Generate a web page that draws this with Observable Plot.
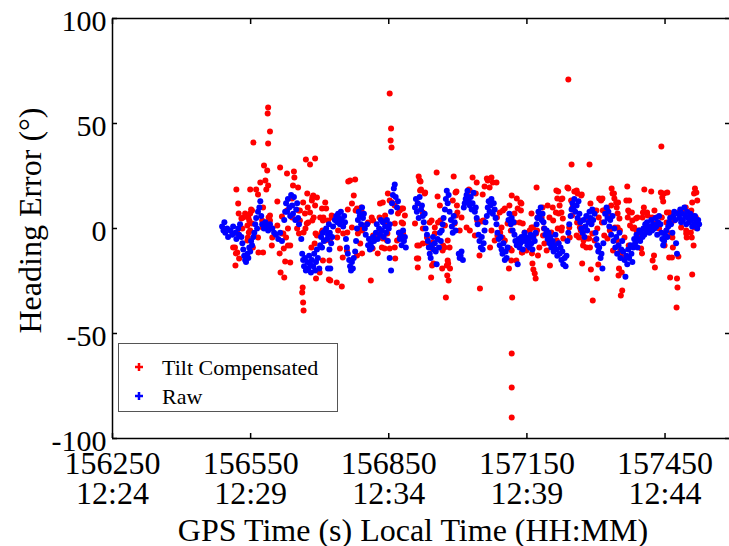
<!DOCTYPE html>
<html><head><meta charset="utf-8">
<script src="https://cdn.jsdelivr.net/npm/d3@7"></script>
<script src="https://cdn.jsdelivr.net/npm/@observablehq/plot@0.6"></script>
<style>html,body{margin:0;padding:0;background:#fff;}#chart{width:729px;height:546px;}</style>
</head><body><div id="chart"></div>
<script>
const xDomain = [156250, 157590];
const yDomain = [-100, 100];
const xTicks = [156250, 156550, 156850, 157150, 157450];
const xTickTimes = ["12:24", "12:29", "12:34", "12:39", "12:44"];
const yTicks = [-100, -50, 0, 50, 100];
const yTickLabels = ["-100", "-50", "0", "50", "100"];
const seriesNames = ["Tilt Compensated", "Raw"];
const seriesColors = ["#ff0000", "#0000ff"];
const xLabel = "GPS Time (s) Local Time (HH:MM)";
const yLabel = "Heading Error (\u00b0)";

const tiltCompensated = [
[156588,57.6],[156587,54.8],[156592,46.2],[156556,41],[156588,40.5],[156579,30],[156614,29],[156586,27.6],[156644,27.1],[156670,32.9],[156690,33.3],[156679,30.5],[156629,26.2],[156645,24.3],[156571,21.9],[156582,22.9],[156588,20.5],[156584,18.6],[156519,18.6],[156549,18.6],[156562,18.6],[156642,20.5],[156653,19.5],[156523,11.9],[156608,12.9],[156640,14.3],[156664,12.4],[156686,15.7],[156683,13.3],[156690,11],[156551,9],[156524,7.1],[156538,7.1],[156530,4.8],[156545,5.2],[156553,2.4],[156575,3.8],[156589,5.2],[156618,5.7],[156654,8.6],[156668,7.1],[156687,5.2],[156675,2.9],[156705,9.5],[156522,-2.4],[156546,-1.9],[156543,-5.7],[156566,-4.3],[156576,0.5],[156597,-4.3],[156621,-2.4],[156627,-4.3],[156655,-2.4],[156669,0],[156684,3.8],[156691,-2.4],[156706,-1],[156512,-9],[156518,-11.9],[156525,-14.3],[156517,-17.6],[156555,-9],[156567,-11.4],[156577,-11.4],[156596,-8.1],[156613,-11.9],[156622,-9.5],[156631,-8.1],[156625,-15.7],[156636,-16.2],[156615,-21],[156623,-23.3],[156682,-9],[156689,-7.1],[156696,-20],[156692,-23.8],[156663,-28.1],[156662,-30.5],[156664,-35.2],[156665,-39],
[156566,16.2],[156553,8.6],[156577,10],[156592,3.8],[156636,-8.1],[156673,16.7],[156684,14.8],[156674,10],[156679,7.6],[156657,3.8],[156672,2.4],[156665,-1.9],[156547,3.8],[156549,-1],[156544,-4.3],[156516,-9],[156521,-11.4],
[156534,5.2],[156543,1.4],[156532,0],[156549,7.1],[156582,2.9],[156597,0],[156608,1.4],[156618,-2.4],[156592,6.2],[156629,8.6],[156640,5.2],[156651,0],[156631,0],[156657,8.6],
[156852,64.3],[156855,47.6],[156854,41.9],[156856,38.6],[156766,22.9],[156777,23.3],[156915,24.8],[156917,22.9],[156712,12.4],[156714,9.5],[156774,15.7],[156770,11.9],[156761,9],[156778,8.6],[156790,10],[156848,16.7],[156837,12.4],[156831,11.9],[156857,12.4],[156878,9.5],[156885,6.2],[156918,18.1],[156928,16.7],[156701,5.2],[156707,3.8],[156718,3.8],[156727,5.2],[156738,-4.3],[156722,-5.7],[156751,-2.4],[156760,-1.9],[156787,0],[156805,2.9],[156816,-3.3],[156830,5.2],[156842,3.8],[156847,-2.4],[156863,-9],[156868,-5.7],[156874,-1.9],[156881,2.4],[156788,-7.1],[156792,-11.9],[156781,-12.9],[156815,-9.5],[156826,-11.9],[156841,-9.5],[156852,-9.5],[156864,-14.3],[156744,-9.5],[156759,-10.5],[156750,-13.8],[156721,-15.2],[156700,-21],[156723,-24.8],[156737,-25.7],[156748,-27.6],[156811,-24.8],[156911,-14.3],[156913,-18.6],[156916,-8.1],[156924,-7.1],[156933,-4.3],
[156762,22.4],[156720,-24.3],[156792,-1],[156863,11],[156852,13.3],[156881,9.5],[156694,14.8],[156708,5.2],[156726,6.2],[156704,-1.9],[156694,-3.3],[156712,-5.7],[156707,-15.2],[156781,9.5],[156792,7.6],[156798,1.4],[156816,3.8],[156820,-3.3],[156831,-1.9],[156837,-4.8],[156846,1.4],[156842,6.2],[156870,7.1],[156878,2.9],[156881,-2.4],[156874,8.6],
[156740,-1],[156770,0.5],[156783,-2.4],[156813,5.2],[156835,-9],[156846,-5.7],[156863,2.4],[156874,-4.3],
[156954,26.7],[156991,24.8],[157032,24.3],[157041,21.9],[157065,22.9],[157076,21.9],[157084,21.9],[157058,20],[157069,19.5],[157026,18.1],[157021,15.7],[157054,16.2],[156929,17.1],[156956,15.2],[156995,17.1],[156989,13.3],[157128,14.3],[157138,11.9],[157130,9.5],[157102,9.5],[157091,7.6],[157160,7.1],[156961,11],[156999,7.6],[157008,5.2],[157042,3.8],[157055,3.8],[157085,5.2],[157108,2.4],[157123,2.9],[157141,2.4],[156943,3.8],[156962,3.8],[156972,1.4],[156950,0.5],[157019,0.5],[157004,-1],[157073,-1],[157092,-1.9],[157097,-4.3],[157145,-1.9],[157156,-1],[156935,-7.1],[156946,-6.7],[156971,-9],[156982,-9],[156967,-10.5],[156978,-15.2],[156976,-17.6],[156966,-19],[156983,-19],[156944,-17.6],[156942,-23.3],[156977,-22.4],[156980,-24.8],[157047,-12.9],[157070,-9],[157080,-5.7],[157117,-10.5],[157116,-15.2],[157140,-11.4],[157162,-16.7],[157167,-21.4],[157048,-28.6],[156974,-32.9],[157118,-32.9],[157117,-59.5],[157117,-75.7],[157117,-90],
[156919,22.4],[156920,18.6],[156997,17.6],[157024,18.6],[157063,23.8],[157073,24.3],[157039,16.7],[157117,15.7],[157112,11],[157098,8.6],[156913,11.9],[156924,7.6],[156907,2.4],[156939,2.9],[156957,2.9],[156996,6.2],[156998,11],[157052,3.3],[157095,0.5],[157115,-1],[156912,-8.1],[156945,-9.5],[156968,-8.1],[156914,-14.3],[156947,-16.7],[156979,-16.7],[157113,-9.5],[157111,-19],
[156924,0],[156950,-2.4],[156978,-5.7],[156993,2.4],[157026,-1],[157037,-3.3],[157086,-3.3],[157102,-5.7],
[157240,71],[157247,30.5],[157286,30.5],[157171,19.5],[157214,18.1],[157240,19],[157253,17.6],[157260,16.7],[157268,15.7],[157334,19],[157336,16.7],[157340,14.3],[157344,12.4],[157368,20],[157366,13.3],[157372,13.3],[157216,14.3],[157227,14.3],[157221,11],[157206,10],[157184,10],[157246,13.3],[157249,10],[157307,14.3],[157314,14.3],[157301,8.6],[157318,8.6],[157345,10],[157373,7.6],[157173,5.2],[157199,5.2],[157213,7.6],[157225,7.6],[157228,4.8],[157248,6.2],[157264,3.8],[157281,5.2],[157306,5.2],[157290,2.4],[157313,2.9],[157329,6.2],[157351,4.8],[157369,5.2],[157379,3.8],[157390,5.2],[157163,0.5],[157170,-2.4],[157185,-3.3],[157203,-1.9],[157217,0],[157226,0.5],[157242,0.5],[157259,2.9],[157265,0.5],[157271,-2.4],[157292,-2.4],[157303,0],[157341,0.5],[157352,-1],[157374,1.4],[157388,-1],[157159,-4.3],[157177,-9],[157188,-7.1],[157193,-10.5],[157215,-5.7],[157229,-4.8],[157263,-4.3],[157282,-4.8],[157272,-8.1],[157287,-9],[157297,-5.7],[157325,-4.8],[157346,-5.7],[157355,-11.4],[157371,-8.1],[157161,-11.9],[157174,-12.9],[157164,-19.5],[157169,-23.8],[157200,-17.6],[157270,-16.7],[157289,-19.5],[157305,-17.1],[157302,-23.8],[157350,-19],[157356,-21],[157357,-29.5],[157354,-31.9],[157293,-34.3],
[157218,17.6],[157238,19.5],[157258,18.1],[157269,16.2],[157312,13.8],[157136,12.4],[157137,8.6],[157195,11],[157224,13.8],[157315,8.6],[157333,11],[157182,5.2],[157207,3.8],[157127,-15.2],[157123,7.1],[157134,2.9],[157149,-10.5],[157139,-11.4],[157172,-1],[157187,0],[157196,-5.7],[157219,7.1],[157243,-4.3],[157267,-1],[157273,-5.7],[157285,-4.8],[157279,-9],[157288,11.9],[157296,8.6],[157311,13.3],[157324,9.5],[157332,5.2],[157330,-1],[157337,-10.5],
[157160,0.5],[157225,-1],[157258,-3.3],[157275,0.5],[157318,-3.3],
[157442,39],[157405,18.6],[157420,17.6],[157441,17.1],[157448,16.7],[157455,17.1],[157444,14.8],[157446,12.9],[157515,19],[157518,17.1],[157513,16.7],[157520,13.3],[157509,12.4],[157378,7.6],[157404,10],[157411,7.6],[157454,7.6],[157463,6.2],[157481,7.6],[157492,8.6],[157507,8.6],[157510,6.2],[157387,4.8],[157401,5.2],[157422,5.2],[157443,5.2],[157470,3.8],[157380,0],[157394,-1],[157391,-3.3],[157416,0],[157427,2.4],[157453,-1],[157496,-1],[157506,-1.9],[157466,-4.3],[157497,-4.3],[157508,-4.3],[157398,-9.5],[157400,-11.9],[157449,-8.1],[157467,-9],[157512,-8.1],[157426,-12.9],[157423,-15.2],[157428,-18.6],[157459,-13.8],[157465,-13.8],[157479,-13.3],[157461,-23.3],[157476,-23.8],[157477,-28.1],[157509,-21.9],[157475,-37.6],
[157370,8.6],[157347,7.1],[157348,12.4],[157339,16.7],[157514,0.5],[157353,-10.5],[157358,-13.8],[157349,-22.4],[157402,7.6],[157412,6.2],[157427,8.6],[157431,5.2],[157383,0.5],[157485,8.6],[157495,10],[157517,5.2],[157468,5.2],[157459,7.6],
[157347,0.5],[157362,-4.3],[157394,-1.9],[157409,0.5],[157437,0],[157453,2.9],[157485,0.5],[157496,-2.4],[157463,-2.4]
];

const raw = [
[156488,1],[156491,-1],[156493,3],[156495,-2],[156499,0],[156501,-4],[156506,-1],[156510,-3],[156512,1],[156517,-2],[156519,-5],[156523,0],[156525,-3],[156527,2],[156530,-4],[156532,-7],[156534,-10],[156536,-13],[156538,-15],[156540,-16],[156543,-12],[156545,-14],[156547,-9],[156549,-11],[156551,-6],[156553,-8],[156556,-4],[156558,-2],[156560,2],[156562,5],[156564,0],[156566,8],[156569,10],[156571,13],[156573,6],[156575,2],[156579,0],[156582,3],[156586,1],[156588,-1],[156592,2],[156597,0],[156601,-2],[156605,-3],[156610,-5],[156614,-2],[156618,-6],[156623,4],[156625,8],[156627,12],[156629,8],[156631,14],[156634,10],[156636,6],[156638,16],[156640,11],[156642,7],[156644,15],[156647,4],[156649,9],[156651,12],[156653,5],[156655,2],[156660,-5],[156662,-12],[156664,-15],[156666,-18],[156668,-14],[156670,-20],[156673,-16],[156675,-19],[156677,-13],[156679,-17],[156681,-21],[156683,-15],[156686,-18],[156688,-12],[156690,-20],[156692,-16],[156694,-10],[156696,-14],[156699,-19],[156701,-8],[156703,-4],[156705,-9],[156707,-2],[156709,-6],[156712,-1],[156714,0],[156716,-5],[156718,-3],[156718,-19],[156720,2],[156721,-10],[156722,-2],[156723,-19],[156725,-7],[156727,-4],[156729,1],[156733,4],[156736,6],[156738,3],[156740,7],[156742,5],[156744,2],[156746,8],[156748,4],[156751,1],[156753,6],[156755,3],[156757,-5],[156759,-9],[156761,-12],[156764,-15],[156766,-18],[156768,-20],[156770,-16],[156772,-19],[156774,-14],[156777,-11],[156779,-6],[156781,0],[156783,4],[156785,8],[156787,6],[156790,2],[156792,10],[156794,5],[156796,7],[156798,0],[156800,-3],[156803,2],[156805,-8],[156807,-5],[156809,-10],[156811,-7],[156813,-9],[156816,-4],[156818,-6],[156822,-2],[156824,2],[156826,-5],[156829,0],[156831,-3],[156833,4],[156835,-1],[156837,3],[156839,-4],[156842,1],[156844,-2],[156846,4],[156848,-6],[156850,0],[156852,2],[156852,-14],[156855,8],[156855,-20],[156857,12],[156859,16],[156861,19],[156863,21],[156865,15],[156868,10],[156870,13],[156872,-2],[156874,-5],[156876,-3],[156878,-8],[156881,-1],[156883,-6],[156885,-4],[156887,-9],
[156907,10],[156909,14],[156911,8],[156913,12],[156915,5],[156917,15],[156920,9],[156922,11],[156924,6],[156926,3],[156928,7],[156930,0],[156933,-3],[156935,-6],[156937,-9],[156939,-12],[156941,-14],[156943,-8],[156946,-4],[156948,-10],[156950,-7],[156952,-11],[156954,-17],[156956,-5],[156959,-9],[156961,-2],[156963,-6],[156965,-1],[156967,2],[156969,5],[156972,9],[156974,14],[156976,18],[156978,12],[156980,16],[156982,8],[156985,4],[156987,1],[156989,-2],[156991,6],[156993,3],[156995,-1],[157002,-12],[157004,-14],[157006,-13],[157008,-11],[157011,-15],[157013,10],[157015,12],[157017,14],[157019,16],[157021,18],[157024,13],[157026,11],[157028,15],[157030,9],[157032,12],[157034,17],[157037,8],[157039,10],[157041,5],[157043,2],[157045,-3],[157047,-6],[157050,-9],[157052,-4],[157054,-10],[157056,-7],[157058,-1],[157060,3],[157063,6],[157065,10],[157067,13],[157069,8],[157071,11],[157073,14],[157076,7],[157078,12],[157080,9],[157082,5],[157084,2],[157086,-2],[157089,-5],[157091,-8],[157093,-4],[157095,-10],[157097,-12],[157099,-7],[157102,-15],[157104,-11],[157106,-14],[157108,-9],[157110,4],[157112,7],[157115,2],[157117,5],[157119,-1],[157121,3],[157123,-3],[157125,-6],[157128,-8],[157130,-17],[157132,-5],[157134,-9],[157136,-7],[157138,-4],[157141,-10],[157143,-6],[157145,-2],[157147,-4],[157149,-6],[157151,-8],[157154,-5],[157156,-9],[157158,-3],[157160,-7],[157162,-10],[157164,-4],[157167,-6],[157169,-2],[157171,2],[157173,5],[157175,8],[157177,6],[157180,10],[157182,4],[157184,7],[157186,3],[157188,0],[157190,-3],[157193,-1],[157195,-5],[157197,-2],[157199,-7],[157201,-4],[157203,-9],[157206,-6],[157208,-11],[157210,-8],[157212,-3],[157214,-10],[157216,-13],[157219,-7],[157221,-12],[157223,-9],[157225,-15],[157227,-11],[157229,-17],[157232,-14],[157234,-18],[157236,-13],[157238,-6],[157240,-2],[157242,2],[157245,6],[157247,9],[157249,12],[157251,10],[157253,14],[157255,8],[157258,11],[157260,5],[157262,13],[157264,7],[157266,3],[157268,0],[157271,-2],[157273,4],[157275,-4],[157277,1],[157279,6],[157281,-1],[157284,3],[157286,8],[157288,5],[157290,2],[157292,9],[157294,4],[157297,7],[157299,-2],[157301,-5],[157303,-8],[157305,-11],[157307,-9],[157310,-14],[157312,-12],[157314,-19],[157316,-7],[157318,3],[157320,7],[157323,10],[157325,5],[157327,8],[157329,1],[157331,4],[157333,-3],[157336,6],[157338,-6],[157340,0],[157342,-9],[157344,-4],[157346,-12],[157349,-8],[157351,-2],[157353,-14],[157355,-10],[157357,-6],[157359,-11],[157362,-15],[157364,-23],[157366,-13],[157368,-17],[157370,-10],[157372,-14],[157375,-8],[157377,-12],[157379,-16],[157381,-9],[157383,-5],[157385,-7],[157388,-3],[157390,-9],[157392,-5],[157394,-1],[157396,-6],[157398,-2],[157401,-4],[157403,0],[157405,-3],[157407,2],[157409,-1],[157411,3],[157414,0],[157416,-2],[157418,1],[157420,4],[157422,-1],[157424,2],[157427,0],[157429,5],[157431,1],[157433,-3],[157435,3],[157437,6],[157440,2],[157442,-2],[157444,-5],[157446,-8],[157448,-6],[157450,-3],[157453,-1],[157455,-4],[157457,1],[157459,3],[157461,5],[157463,2],[157466,-2],[157468,6],[157470,8],[157472,4],[157474,-7],[157476,-12],[157479,7],[157481,5],[157483,9],[157485,3],[157487,7],[157489,4],[157492,10],[157494,6],[157496,2],[157498,8],[157500,5],[157502,3],[157505,7],[157507,4],[157509,1],[157511,5],[157513,2],[157515,6],[157518,3],[157520,0],[157522,4],[157524,2]
];

const FONT = "'Liberation Serif', 'Times New Roman', serif";

const chart = Plot.plot({
  width: 729,
  height: 546,
  marginLeft: 112,
  marginRight: 0,
  marginTop: 18,
  marginBottom: 108,
  style: {fontFamily: FONT, background: "white", color: "black", overflow: "visible"},
  x: {domain: xDomain},
  y: {domain: yDomain},
  marks: [
    Plot.dot(tiltCompensated, {x: d => d[0], y: d => d[1], r: 3, fill: seriesColors[0]}),
    Plot.dot(raw, {x: d => d[0], y: d => d[1], r: 3, fill: seriesColors[1]}),
    Plot.ruleX([xDomain[0]], {stroke: "black", strokeWidth: 1.5}),
    Plot.ruleY(yDomain, {stroke: "black", strokeWidth: 1.5}),
    Plot.axisY(yTicks, {anchor: "left", tickSize: -5, strokeWidth: 1.5, tickFormat: () => "", label: null}),
    Plot.axisY(yTicks, {anchor: "right", tickSize: -5, strokeWidth: 1.5, tickFormat: () => "", label: null}),
    Plot.axisX(xTicks, {anchor: "bottom", tickSize: -5, strokeWidth: 1.5, tickFormat: () => "", label: null}),
    Plot.axisX(xTicks, {anchor: "top", tickSize: -5, strokeWidth: 1.5, tickFormat: () => "", label: null}),
    Plot.axisY(yTicks, {anchor: "left", tickSize: 0, tickPadding: 6, dy: 3, fontSize: 30,
      tickFormat: d => yTickLabels[yTicks.indexOf(d)], label: null}),
    Plot.axisX(xTicks, {anchor: "bottom", tickSize: 0, tickPadding: 15, fontSize: 32, lineHeight: 0.92,
      tickFormat: d => `${d}\n${xTickTimes[xTicks.indexOf(d)]}`, label: null}),
    Plot.text([xLabel], {frameAnchor: "bottom", dx: -8, dy: 92, fontSize: 32, textAnchor: "middle", lineAnchor: "middle", fill: "black"}),
    Plot.text([yLabel], {frameAnchor: "left", dx: -82, dy: -8, rotate: -90, fontSize: 32, textAnchor: "middle", lineAnchor: "middle", fill: "black"})
  ]
});
document.getElementById("chart").appendChild(chart);

// legend inside the axes (lower left)
const svg = d3.select(chart);
const lg = svg.append("g");
lg.append("rect").attr("x", 118.5).attr("y", 343.5).attr("width", 219).attr("height", 68)
  .attr("fill", "white").attr("stroke", "#555").attr("stroke-width", 1);
seriesNames.forEach((name, i) => {
  const cy = 367 + i * 29;
  lg.append("path").attr("d", `M135,${cy}h8M139,${cy - 4}v8`)
    .attr("stroke", seriesColors[i]).attr("stroke-width", 2.5).attr("fill", "none");
  lg.append("text").attr("x", 162).attr("y", cy + 7.5).attr("fill", "black")
    .style("font-family", FONT).style("font-size", "22px").style("text-anchor", "start").text(name);
});
</script>
</body></html>
